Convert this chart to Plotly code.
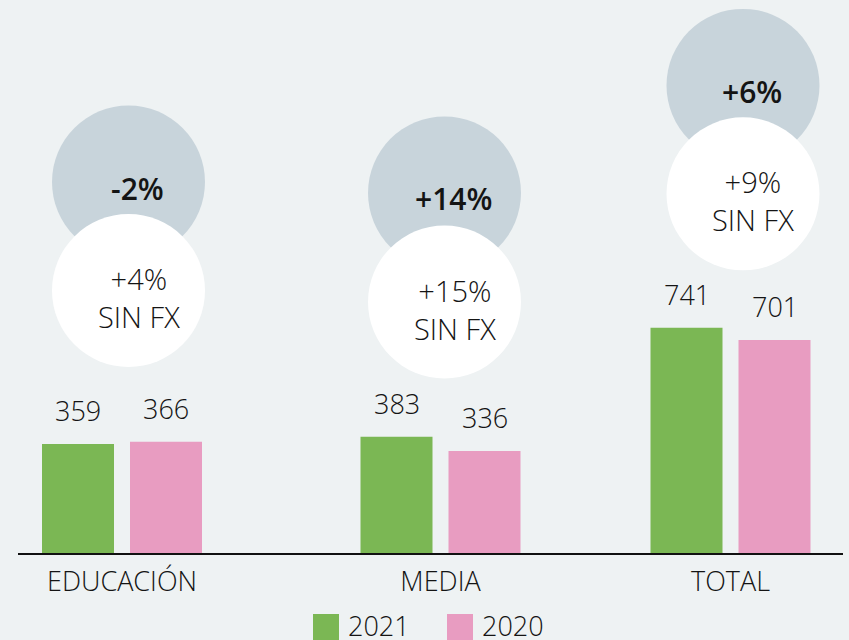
import plotly.graph_objects as go

# data
CATEGORIES = ["EDUCACIÓN", "MEDIA", "TOTAL"]
VALUES_2021 = [359, 383, 741]
VALUES_2020 = [366, 336, 701]
CHANGE = ["-2%", "+14%", "+6%"]
CHANGE_SIN_FX = ["+4%", "+15%", "+9%"]
YEARS = ["2021", "2020"]

# layout (x axis is laid out in pixel-like units)
GROUP_X = [122, 440.5, 730.5]
BAR_OFFSET = 44
BAR_WIDTH = 72
BUBBLE_X = [128.5, 444.5, 743]
BUBBLE_Y_GRAY = [1221, 1185, 1539]
BUBBLE_Y_WHITE = [864, 826, 1182]
BUBBLE_SIZE = 153

GREEN = "#7bb754"
PINK = "#e89cc1"
GRAY = "#c8d4db"
BG = "#eef2f3"
INK = "#141414"
FONT = "Open Sans"

W, H = 849, 640
M_L, M_R, M_T, M_B = 18, 6, 0, 87
Y_MAX = 1820


def paper_x(px):
    return (px - M_L) / (W - M_L - M_R)


def paper_y(py):
    return (H - M_B - py) / (H - M_B - M_T)


def txt(size, weight=300):
    return dict(size=size, color=INK, family=FONT, weight=weight)


fig = go.Figure()

fig.add_trace(go.Bar(x=[g - BAR_OFFSET for g in GROUP_X], y=VALUES_2021, width=BAR_WIDTH,
                     marker=dict(color=GREEN, line_width=0), name=YEARS[0], hoverinfo="skip"))
fig.add_trace(go.Bar(x=[g + BAR_OFFSET for g in GROUP_X], y=VALUES_2020, width=BAR_WIDTH,
                     marker=dict(color=PINK, line_width=0), name=YEARS[1], hoverinfo="skip"))

fig.add_trace(go.Scatter(x=BUBBLE_X, y=BUBBLE_Y_GRAY, mode="markers", cliponaxis=False,
                         marker=dict(size=BUBBLE_SIZE, color=GRAY, line_width=0), hoverinfo="skip"))
fig.add_trace(go.Scatter(x=BUBBLE_X, y=BUBBLE_Y_WHITE, mode="markers", cliponaxis=False,
                         marker=dict(size=BUBBLE_SIZE, color="white", line_width=0), hoverinfo="skip"))

# value labels above bars
for vals, off in ((VALUES_2021, -BAR_OFFSET), (VALUES_2020, BAR_OFFSET)):
    for g, v in zip(GROUP_X, vals):
        fig.add_annotation(x=g + off, y=v, text=str(v), showarrow=False, yanchor="bottom",
                           yshift=13, font=txt(27))

# bubble texts
for bx, gy, wy, c, c2 in zip(BUBBLE_X, BUBBLE_Y_GRAY, BUBBLE_Y_WHITE, CHANGE, CHANGE_SIN_FX):
    fig.add_annotation(x=bx, y=gy, text=c, showarrow=False, xshift=9, yshift=-6,
                       font=txt(30, 600))
    fig.add_annotation(x=bx, y=wy, text="%s<br>SIN FX" % c2, showarrow=False, xshift=10, yshift=-7,
                       font=txt(29))

# legend drawn by hand so the swatches can be large
for i, (year, col) in enumerate(zip(YEARS, (GREEN, PINK))):
    x0 = 313 + i * 134
    fig.add_shape(type="rect", xref="paper", yref="paper", x0=paper_x(x0), x1=paper_x(x0 + 26),
                  y0=paper_y(614), y1=paper_y(646), fillcolor=col, line_width=0)
    fig.add_annotation(xref="paper", yref="paper", x=paper_x(x0 + 33), y=paper_y(625), text=year,
                       showarrow=False, xanchor="left", yanchor="middle", height=28, font=txt(27))

fig.update_layout(
    width=W, height=H,
    margin=dict(l=M_L, r=M_R, t=M_T, b=M_B),
    paper_bgcolor=BG, plot_bgcolor=BG,
    showlegend=False, barmode="overlay",
    font=dict(family=FONT, color=INK),
)
fig.update_xaxes(range=[M_L, W - M_R], tickvals=GROUP_X, ticktext=CATEGORIES, ticks="",
                 showgrid=False, zeroline=False, showline=True, linecolor="#111111", linewidth=2,
                 tickfont=txt(27), ticklabelstandoff=4, fixedrange=True)
fig.update_yaxes(range=[0, Y_MAX], visible=False, showgrid=False, zeroline=False, fixedrange=True)

fig.write_html("out.html", config={"displayModeBar": False},
               post_script="document.body.style.margin='0';")
